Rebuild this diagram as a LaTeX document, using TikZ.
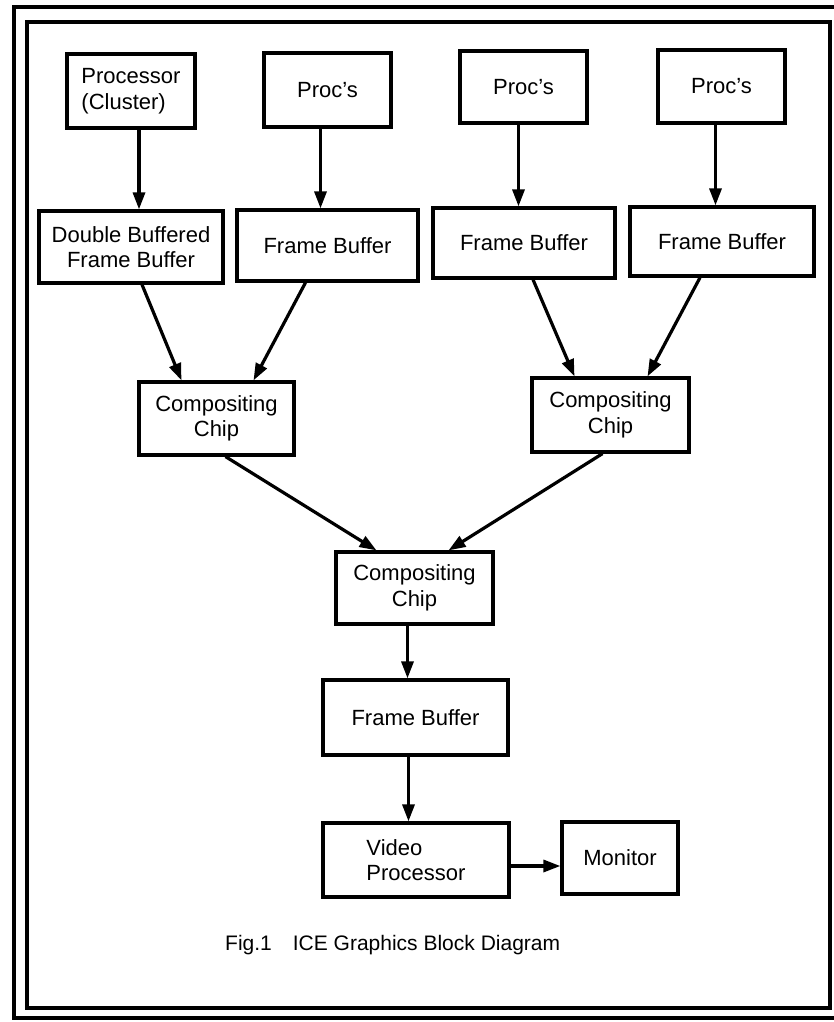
\documentclass[tikz,border=0pt]{standalone}
\usepackage{fontspec}
\setmainfont{Liberation Sans}
\usepackage{tikz}
\usetikzlibrary{arrows.meta}

\tikzset{
    block/.style={draw, line width=3.2pt, inner sep=0pt, align=center,
        font=\fontsize{22}{25.5}\selectfont},
    flow/.style={line width=3.2pt, -{Triangle[length=17pt,width=12pt]}},
}

\begin{document}
\begin{tikzpicture}[x=1pt,y=-1pt]
    \useasboundingbox (0,0) rectangle (834,1022);
    % Frames
    \draw[line width=3.5pt] (834,7) -- (14,7) -- (14,1018) -- (834,1018);
    \draw[line width=3.5pt] (27,22) rectangle (830,1008);
    % Processors
    \node[block, minimum width=128pt, minimum height=74pt, align=left] (p1) at (131,91) {Processor\\(Cluster)};
    \node[block, minimum width=127pt, minimum height=74pt] (p2) at (327.5,90) {Proc's};
    \node[block, minimum width=127pt, minimum height=72pt] (p3) at (523.5,87) {Proc's};
    \node[block, minimum width=127pt, minimum height=73pt] (p4) at (721.5,86.5) {Proc's};
    % Frame buffers
    \node[block, minimum width=184pt, minimum height=72pt] (f1) at (131,247) {Double Buffered\\Frame Buffer};
    \node[block, minimum width=181pt, minimum height=71pt] (f2) at (327.5,245.5) {Frame Buffer};
    \node[block, minimum width=182pt, minimum height=70pt] (f3) at (524,243) {Frame Buffer};
    \node[block, minimum width=184pt, minimum height=69pt] (f4) at (722,241.5) {Frame Buffer};
    % Compositing chips
    \node[block, minimum width=155pt, minimum height=73pt] (c1) at (216.5,418.5) {Compositing\\Chip};
    \node[block, minimum width=157pt, minimum height=74pt] (c2) at (610.5,415) {Compositing\\Chip};
    \node[block, minimum width=157pt, minimum height=72pt] (c3) at (414.5,588) {Compositing\\Chip};
    % Output
    \node[block, minimum width=185pt, minimum height=75pt] (fb) at (415.5,717.5) {Frame Buffer};
    \node[block, minimum width=186pt, minimum height=74pt, align=left] (vp) at (416,860) {Video\\Processor};
    \node[block, minimum width=116pt, minimum height=72pt] (mon) at (620,858) {Monitor};
    \node[anchor=west, inner sep=0pt, font=\fontsize{21}{25}\selectfont] (cap) at (225,945) {Fig.1\quad ICE Graphics Block Diagram};
    % Arrows
    \foreach \i/\s in {1/8,2/-7,3/-5,4/-6} {%
        \draw[flow] ([xshift=\s pt]p\i.south) -- ([xshift=\s pt]p\i.south |- f\i.north);
    }
    \draw[flow] ([xshift=11pt]f1.south) -- ([xshift=-35pt]c1.north);
    \draw[flow] ([xshift=-22pt]f2.south) -- ([xshift=37pt]c1.north);
    \draw[flow] ([xshift=9pt]f3.south) -- ([xshift=-36pt]c2.north);
    \draw[flow] ([xshift=-22pt]f4.south) -- ([xshift=37pt]c2.north);
    \draw[flow] ([xshift=9pt]c1.south) -- ([xshift=-38pt]c3.north);
    \draw[flow] ([xshift=-8pt]c2.south) -- ([xshift=34pt]c3.north);
    \draw[flow] ([xshift=-7pt]c3.south) -- ([xshift=-7pt]c3.south |- fb.north);
    \draw[flow] ([xshift=-7pt]fb.south) -- ([xshift=-7pt]fb.south |- vp.north);
    \draw[flow] ([yshift=-6pt]vp.east) -- ([yshift=-6pt]vp.east -| mon.west);
\end{tikzpicture}
\end{document}
